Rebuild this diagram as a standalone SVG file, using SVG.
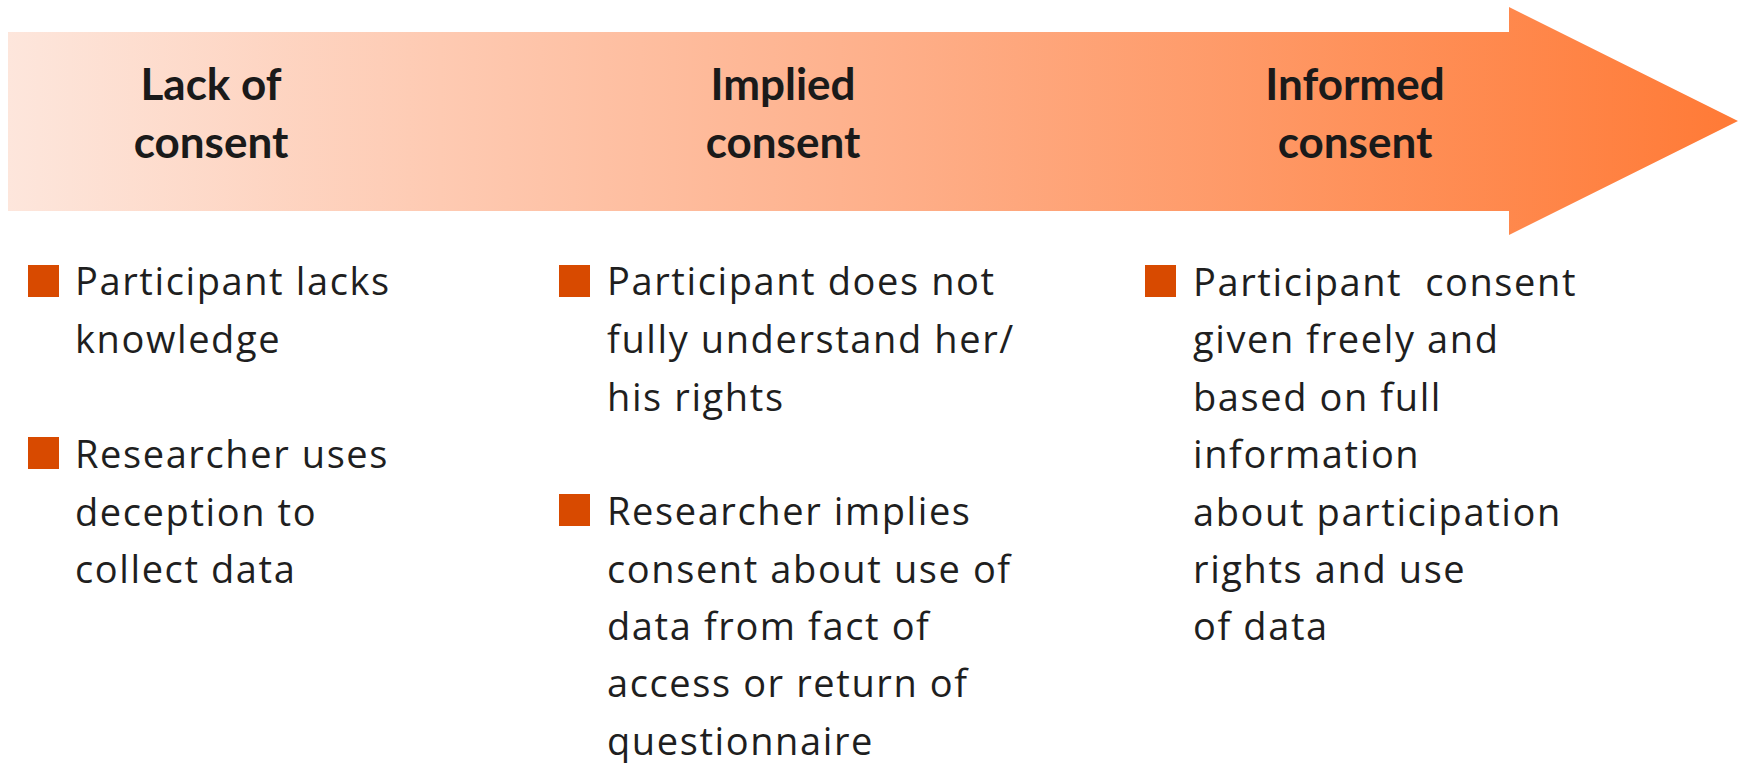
<svg xmlns="http://www.w3.org/2000/svg" width="1743" height="763" viewBox="0 0 1743 763">
<defs>
<linearGradient id="grad" x1="8" y1="0" x2="1738" y2="0" gradientUnits="userSpaceOnUse">
<stop offset="0" stop-color="#fde6dc"/>
<stop offset="0.25" stop-color="#fecab2"/>
<stop offset="0.5" stop-color="#feb08b"/>
<stop offset="1" stop-color="#ff7a36"/>
</linearGradient>
</defs>
<style>
.h{font-family:Lato,"Liberation Sans",sans-serif;font-weight:bold;font-size:44px;fill:#1a1a1a;text-anchor:middle}
.t{font-family:"Open Sans","Liberation Sans",sans-serif;font-size:38px;letter-spacing:1.6px;fill:#1f1f1f}
.b{fill:#d84a00}
</style>
<rect width="1743" height="763" fill="#ffffff"/>
<g id="arrow">
<polygon points="8,32 1509,32 1509,7 1738,121 1509,235 1509,211 8,211" fill="url(#grad)"/>
</g>
<g id="head-lack">
<text class="h" x="211" y="100">Lack of</text>
<text class="h" x="211" y="158">consent</text>
</g>
<g id="head-implied">
<text class="h" x="783" y="100">Implied</text>
<text class="h" x="783" y="158">consent</text>
</g>
<g id="head-informed">
<text class="h" x="1355" y="100">Informed</text>
<text class="h" x="1355" y="158">consent</text>
</g>
<g id="col-lack">
<rect class="b" x="28" y="265" width="31" height="32"/>
<text class="t" x="75" y="295">Participant lacks</text>
<text class="t" x="75" y="353">knowledge</text>
<rect class="b" x="28" y="437" width="31" height="32"/>
<text class="t" x="75" y="468">Researcher uses</text>
<text class="t" x="75" y="526">deception to</text>
<text class="t" x="75" y="583">collect data</text>
</g>
<g id="col-implied">
<rect class="b" x="559" y="265" width="31" height="32"/>
<text class="t" x="607" y="295">Participant does not</text>
<text class="t" x="607" y="353">fully understand her/</text>
<text class="t" x="607" y="411">his rights</text>
<rect class="b" x="559" y="494" width="31" height="32"/>
<text class="t" x="607" y="525">Researcher implies</text>
<text class="t" x="607" y="583">consent about use of</text>
<text class="t" x="607" y="640">data from fact of</text>
<text class="t" x="607" y="697">access or return of</text>
<text class="t" x="607" y="755">questionnaire</text>
</g>
<g id="col-informed">
<rect class="b" x="1145" y="265" width="31" height="32"/>
<text class="t" x="1193" y="296" xml:space="preserve">Participant  consent</text>
<text class="t" x="1193" y="353">given freely and</text>
<text class="t" x="1193" y="411">based on full</text>
<text class="t" x="1193" y="468">information</text>
<text class="t" x="1193" y="526">about participation</text>
<text class="t" x="1193" y="583">rights and use</text>
<text class="t" x="1193" y="640">of data</text>
</g>
<g id="connectors"></g>
</svg>
